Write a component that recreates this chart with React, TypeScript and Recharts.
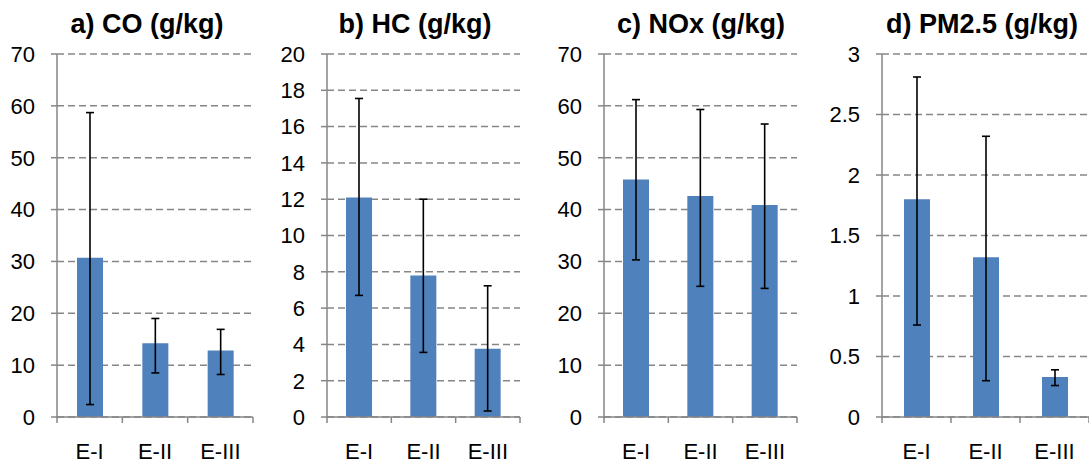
import React from "react";
import { Bar, BarChart, CartesianGrid, ErrorBar, XAxis, YAxis } from "recharts";

const CATEGORIES = ["E-I", "E-II", "E-III"];

const CO_MEAN = [30.7, 14.2, 12.8];
const CO_LOW = [2.4, 8.5, 8.2];
const CO_HIGH = [58.7, 19.0, 16.9];

const HC_MEAN = [12.1, 7.8, 3.76];
const HC_LOW = [6.7, 3.56, 0.33];
const HC_HIGH = [17.55, 12.0, 7.23];

const NOX_MEAN = [45.8, 42.6, 40.9];
const NOX_LOW = [30.3, 25.2, 24.8];
const NOX_HIGH = [61.2, 59.3, 56.5];

const PM_MEAN = [1.8, 1.32, 0.33];
const PM_LOW = [0.76, 0.3, 0.26];
const PM_HIGH = [2.81, 2.32, 0.39];

const CO_TICKS = [0, 10, 20, 30, 40, 50, 60, 70];
const HC_TICKS = [0, 2, 4, 6, 8, 10, 12, 14, 16, 18, 20];
const NOX_TICKS = [0, 10, 20, 30, 40, 50, 60, 70];
const PM_TICKS = [0, 0.5, 1, 1.5, 2, 2.5, 3];

const FONT = "'Liberation Sans', Arial, sans-serif";
const BAR_COLOR = "#4F81BD";
const AXIS_COLOR = "#868686";
const H = 464;
const TOP = 54;
const BOTTOM = 47;
const Y_W = 57;
const TICK_FONT = 22;

function rows(mean: number[], low: number[], high: number[]) {
  return CATEGORIES.map((c, i) => ({
    cat: c,
    value: mean[i],
    err: [mean[i] - low[i], high[i] - mean[i]],
  }));
}

const PANELS = [
  { title: "a) CO (g/kg)", left: 0, width: 270, mr: 17, titleX: 147, ticks: CO_TICKS, data: rows(CO_MEAN, CO_LOW, CO_HIGH) },
  { title: "b) HC (g/kg)", left: 270, width: 270, mr: 20, titleX: 415, ticks: HC_TICKS, data: rows(HC_MEAN, HC_LOW, HC_HIGH) },
  { title: "c) NOx (g/kg)", left: 547, width: 270, mr: 20, titleX: 701, ticks: NOX_TICKS, data: rows(NOX_MEAN, NOX_LOW, NOX_HIGH) },
  { title: "d) PM2.5 (g/kg)", left: 825, width: 264, mr: 0, titleX: 982, ticks: PM_TICKS, data: rows(PM_MEAN, PM_LOW, PM_HIGH) },
];

// category ticks sit on band edges, like the spreadsheet original
function makeTick(band: number) {
  return (props: any) => {
    const { x, y, payload, index } = props;
    const last = index === CATEGORIES.length - 1;
    return (
      <g>
        <line x1={x - band / 2} y1={y} x2={x - band / 2} y2={y + 6} stroke={AXIS_COLOR} strokeWidth={1.5} />
        {last ? <line x1={x + band / 2} y1={y} x2={x + band / 2} y2={y + 6} stroke={AXIS_COLOR} strokeWidth={1.5} /> : null}
        <text x={x} y={y + 42} textAnchor="middle" fontSize={TICK_FONT} fontFamily={FONT} fill="#000">
          {payload.value}
        </text>
      </g>
    );
  };
}

function Panel({ p }: { p: (typeof PANELS)[number] }) {
  const band = (p.width - Y_W - p.mr) / CATEGORIES.length;
  const top = p.ticks[p.ticks.length - 1];
  return (
    <div style={{ position: "absolute", left: p.left, top: 0, width: p.width, height: H }}>
      <BarChart width={p.width} height={H} data={p.data} margin={{ top: TOP, right: p.mr, bottom: 0, left: 0 }}>
        <CartesianGrid vertical={false} stroke={AXIS_COLOR} strokeDasharray="7 4" strokeWidth={1.5} />
        <XAxis
          dataKey="cat"
          height={BOTTOM}
          tickSize={0}
          tickMargin={0}
          tickLine={false}
          axisLine={{ stroke: AXIS_COLOR, strokeWidth: 1.5 }}
          tick={makeTick(band)}
          interval={0}
        />
        <YAxis
          width={Y_W}
          domain={[0, top]}
          ticks={p.ticks}
          interval={0}
          tickSize={6}
          tickMargin={16}
          axisLine={{ stroke: AXIS_COLOR, strokeWidth: 1.5 }}
          tickLine={{ stroke: AXIS_COLOR, strokeWidth: 1.5 }}
          tick={{ fontSize: TICK_FONT, fill: "#000", fontFamily: FONT }}
        />
        <Bar dataKey="value" fill={BAR_COLOR} barSize={26} isAnimationActive={false}>
          <ErrorBar dataKey="err" width={4} stroke="#000" strokeWidth={1.6} isAnimationActive={false} />
        </Bar>
      </BarChart>
    </div>
  );
}

export default function App() {
  return (
    <div style={{ position: "absolute", left: 0, top: 0, width: 1089, height: H, background: "#fff", fontFamily: FONT }}>
      {PANELS.map((p) => (
        <Panel key={p.title} p={p} />
      ))}
      {PANELS.map((p) => (
        <div
          key={p.title + "-t"}
          style={{
            position: "absolute",
            left: p.titleX - 150,
            width: 300,
            top: 11,
            lineHeight: "27px",
            fontSize: 27,
            fontWeight: "bold",
            textAlign: "center",
            color: "#000",
          }}
        >
          {p.title}
        </div>
      ))}
    </div>
  );
}
